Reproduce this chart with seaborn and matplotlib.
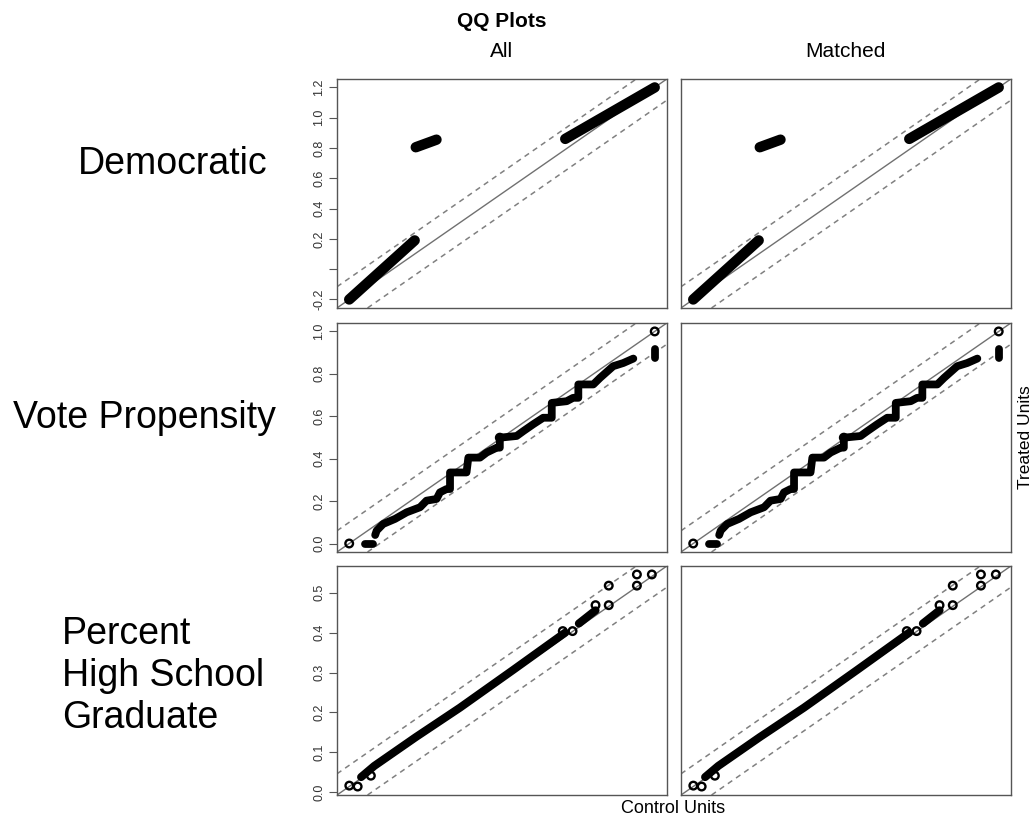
import matplotlib
matplotlib.use('Agg')
import matplotlib.pyplot as plt
import seaborn as sns

# --- data (treated quantiles vs control quantiles) ---
# thick runs of overlapping points, stored as (x, y) vertex lists
dem_lines = [
    ([-0.2, 0.10], [-0.2, 0.19]),
    ([0.105, 0.20], [0.805, 0.855]),
    ([0.79, 1.2], [0.86, 1.2]),
]
dem_pts_x = []
dem_pts_y = []
dem_ticks = [-0.2, 0.0, 0.2, 0.4, 0.6, 0.8, 1.0, 1.2]
dem_labels = ['-0.2', '', '0.2', '0.4', '0.6', '0.8', '1.0', '1.2']

vote_lines = [
    ([0.053, 0.079], [0.0, 0.0]),
    ([0.085, 0.09, 0.111, 0.15, 0.188, 0.232, 0.253, 0.286, 0.297, 0.319,
      0.33, 0.33, 0.384, 0.39, 0.428, 0.45, 0.483, 0.493, 0.493, 0.548,
      0.57, 0.602, 0.635, 0.663, 0.663, 0.712, 0.733, 0.75, 0.75, 0.799,
      0.821, 0.864, 0.897, 0.93],
     [0.04, 0.061, 0.092, 0.116, 0.147, 0.171, 0.202, 0.21, 0.241, 0.257,
      0.257, 0.335, 0.335, 0.405, 0.405, 0.429, 0.452, 0.452, 0.499, 0.507,
      0.53, 0.562, 0.593, 0.593, 0.663, 0.671, 0.687, 0.687, 0.75, 0.75,
      0.781, 0.836, 0.851, 0.872]),
    ([1.0, 1.0], [0.875, 0.915]),
]
vote_pts_x = [0.0, 0.493, 1.0]
vote_pts_y = [0.0, 0.499, 1.0]
vote_ticks = [0.0, 0.2, 0.4, 0.6, 0.8, 1.0]
vote_labels = ['0.0', '0.2', '0.4', '0.6', '0.8', '1.0']

hs_lines = [
    ([0.035, 0.058, 0.13, 0.207, 0.30, 0.39],
     [0.038, 0.066, 0.138, 0.212, 0.307, 0.40]),
    ([0.414, 0.443], [0.423, 0.456]),
]
hs_pts_x = [0.0145, 0.029, 0.052, 0.386, 0.403, 0.443, 0.466, 0.466, 0.515, 0.515, 0.541]
hs_pts_y = [0.0166, 0.0143, 0.0415, 0.404, 0.404, 0.469, 0.469, 0.518, 0.518, 0.546, 0.546]
hs_ticks = [0.0, 0.1, 0.2, 0.3, 0.4, 0.5]
hs_labels = ['0.0', '0.1', '0.2', '0.3', '0.4', '0.5']

rows = [
    ('Democratic', dem_lines, dem_pts_x, dem_pts_y, dem_ticks, dem_labels, 7.5),
    ('Vote Propensity', vote_lines, vote_pts_x, vote_pts_y, vote_ticks, vote_labels, 5.6),
    ('Percent\nHigh School\nGraduate', hs_lines, hs_pts_x, hs_pts_y, hs_ticks, hs_labels, 5.8),
]
columns = ['All', 'Matched']

sns.set_style('white')
plt.rcParams['font.family'] = ['Liberation Sans', 'DejaVu Sans']
plt.rcParams['text.color'] = 'black'


def draw_panel(ax, lines, px, py, ticks, labels, lw, show_y):
    allv = list(px) + list(py)
    for xs, ys in lines:
        allv += list(xs) + list(ys)
    lo, hi = min(allv), max(allv)
    pad = 0.04 * (hi - lo)
    off = 0.1 * (hi - lo)
    # 45 degree line and +/- 10% bands
    ax.axline((0, 0), slope=1, color='#707070', lw=1.0)
    for o in (off, -off):
        ax.axline((0, o), slope=1, color='#808080', lw=1.1, ls=(0, (3.5, 3.0)))
    for xs, ys in lines:
        sns.lineplot(x=xs, y=ys, sort=False, estimator=None, color='black',
                     lw=lw, solid_capstyle='round', solid_joinstyle='round', ax=ax)
    if len(px):
        sns.scatterplot(x=px, y=py, marker='o', s=30, facecolor='none',
                        edgecolor='black', linewidth=1.7, ax=ax, zorder=3)
    ax.set_xlim(lo - pad, hi + pad)
    ax.set_ylim(lo - pad, hi + pad)
    ax.set_xticks([])
    if show_y:
        ax.set_yticks(ticks)
        ax.set_yticklabels(labels, rotation=90, va='center')
        ax.tick_params(axis='y', length=5.5, width=0.8, color='#555555',
                       labelsize=9, labelcolor='#333333', pad=3, left=True)
    else:
        ax.set_yticks([])
    ax.set_xlabel('')
    ax.set_ylabel('')
    for sp in ax.spines.values():
        sp.set_color('#555555')
        sp.set_linewidth(1.0)


fig = plt.figure(figsize=(10.34, 8.23), dpi=100)
col_left = [0.3259, 0.6586]
col_w = 0.3191
row_bottom = [0.6258, 0.3293, 0.0340]
row_h = 0.2783

for r, (name, lines, px, py, ticks, labels, lw) in enumerate(rows):
    for c in range(2):
        ax = fig.add_axes([col_left[c], row_bottom[r], col_w, row_h])
        draw_panel(ax, lines, px, py, ticks, labels, lw, show_y=(c == 0))

# row labels
fig.text(0.0754, 0.8007, 'Democratic', fontsize=27, va='center', ha='left')
fig.text(0.0126, 0.4921, 'Vote Propensity', fontsize=27, va='center', ha='left')
fig.text(0.060, 0.1786, 'Percent\nHigh School\nGraduate', fontsize=27,
         va='center', ha='left', linespacing=1.22)

# titles
fig.text(0.4855, 0.9735, 'QQ Plots', fontsize=15, fontweight='bold', ha='center', va='center')
fig.text(0.4855, 0.938, columns[0], fontsize=15, ha='center', va='center')
fig.text(0.8172, 0.938, columns[1], fontsize=15, ha='center', va='center')

fig.text(0.9915, 0.469, 'Treated Units', fontsize=12.5, rotation=90, ha='center', va='center')
fig.text(0.6509, 0.0182, 'Control Units', fontsize=13, ha='center', va='center')

fig.savefig('out.png', dpi=100)
